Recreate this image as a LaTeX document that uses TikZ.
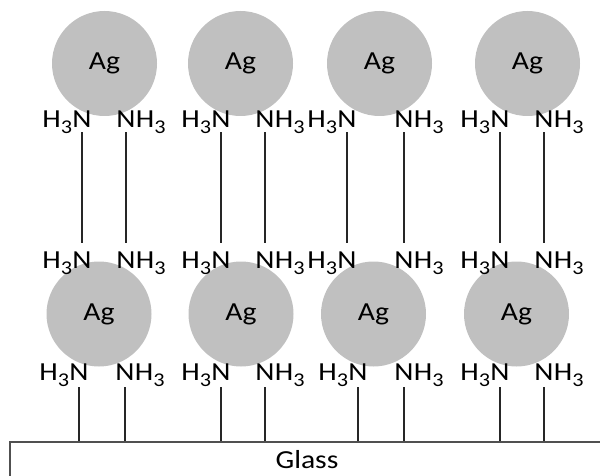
\documentclass[tikz,border=0pt]{standalone}
\usepackage{fontspec}
\setmainfont{Carlito}[FakeStretch=1.14]
\definecolor{agray}{HTML}{C0C0C0}
\definecolor{edgegray}{HTML}{505050}
\newcommand{\sbs}[1]{\raisebox{-6pt}{\fontsize{19.5}{21}\selectfont #1}}
\tikzset{
  lbl/.style={inner sep=0pt, font=\fontsize{26}{31}\selectfont},
  nat/.style={lbl, anchor=base},
  agball/.style={circle, fill=agray, draw=none, minimum size=105pt, inner sep=0pt, font=\fontsize{26}{31}\selectfont},
  bond/.style={line width=2.1pt, draw=black!85},
}
\begin{document}
\begin{tikzpicture}[x=1pt,y=-1pt]
\useasboundingbox (0,0) rectangle (600,476);
\begin{scope}
\clip (0,0) rectangle (600,476);
% Ag balls
\node[agball] (t1) at (104.5,63.5) {Ag};
\node[agball] (t2) at (240.5,63.5) {Ag};
\node[agball] (t3) at (379.5,63.5) {Ag};
\node[agball] (t4) at (527.5,63.5) {Ag};
\node[agball] (b1) at (99,314) {Ag};
\node[agball] (b2) at (241,314) {Ag};
\node[agball] (b3) at (373.5,314) {Ag};
\node[agball] (b4) at (516.5,314) {Ag};
% Glass
\node[draw=edgegray, line width=2pt, minimum width=596pt, minimum height=60pt, anchor=north west, inner sep=0pt] (glass) at (9,441) {};
\node[lbl, anchor=base] (glasslbl) at (307,468) {Glass};
% top and middle rows
\foreach \i/\xa/\xb in {1/82/126, 2/221/265, 3/347/404, 4/500/544}{
  \node[nat] (tL\i) at (\xa,128) {N};
  \node[lbl, anchor=base east] (tLh\i) at (tL\i.base west) {H\sbs{3}};
  \node[nat] (tR\i) at (\xb,128) {N};
  \node[lbl, anchor=base west] (tRh\i) at (tR\i.base east) {H\sbs{3}};
  \node[nat] (mL\i) at (\xa,268) {N};
  \node[lbl, anchor=base east] (mLh\i) at (mL\i.base west) {H\sbs{3}};
  \node[nat] (mR\i) at (\xb,268) {N};
  \node[lbl, anchor=base west] (mRh\i) at (mR\i.base east) {H\sbs{3}};
  \draw[bond, shorten <=4pt, shorten >=8pt] (tL\i.south) -- (mL\i.north);
  \draw[bond, shorten <=4pt, shorten >=8pt] (tR\i.south) -- (mR\i.north);
}
% bottom row
\foreach \i/\xa/\xb in {1/79/125, 2/221/265, 3/358/404, 4/500/544}{
  \node[nat] (bL\i) at (\xa,380) {N};
  \node[lbl, anchor=base east] (bLh\i) at (bL\i.base west) {H\sbs{3}};
  \node[nat] (bR\i) at (\xb,380) {N};
  \node[lbl, anchor=base west] (bRh\i) at (bR\i.base east) {H\sbs{3}};
  \draw[bond, shorten <=7pt] (bL\i.south) -- (bL\i.south |- glass.north);
  \draw[bond, shorten <=7pt] (bR\i.south) -- (bR\i.south |- glass.north);
}
\end{scope}
\end{tikzpicture}
\end{document}
